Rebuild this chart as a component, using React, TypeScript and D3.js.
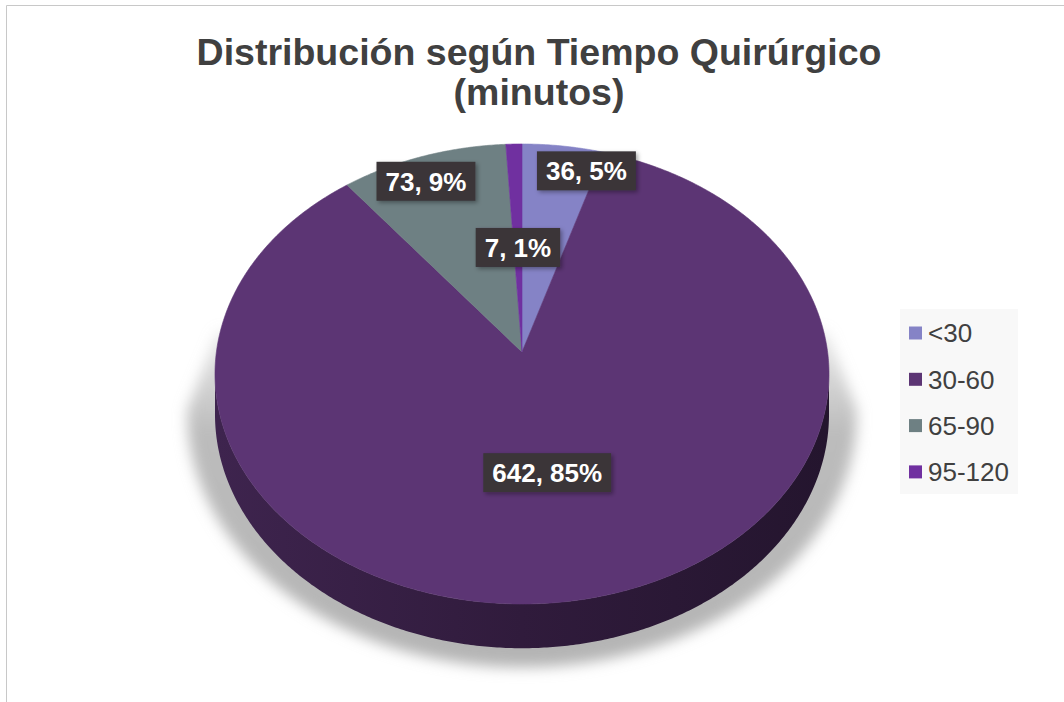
import React, { useEffect, useRef } from 'react';
import * as d3 from 'd3';

const categories = ['<30', '30-60', '65-90', '95-120'];
const counts = [36, 642, 73, 7];
const percents = [5, 85, 9, 1];
const colors = ['#8583c6', '#5c3574', '#6e8083', '#7030a0'];
const titleLines = ['Distribución según Tiempo Quirúrgico', '(minutos)'];

// where each data label sits: fraction of radius + angle nudge (degrees) from slice middle
const labelPlacement = [
  { r: 0.89, shift: 6.3 },
  { r: 0.51, shift: 1.6 },
  { r: 0.875, shift: -2.1 },
  { r: 0.48, shift: 0 },
];

const W = 1064;
const H = 702;
const CX = 522;
const CY = 352;
const RX = 305.6;
const RY = 227.9;
const PERSP = 0.0956;
const DEPTH = 40;
const FONT = "'Liberation Sans', Arial, sans-serif";

// perspective projection of a point on the pie disc (theta clockwise from 12 o'clock)
function project(theta: number, r: number, z = 0): [number, number] {
  const X = r * Math.sin(theta);
  const Y = -r * Math.cos(theta);
  const w = 1 - PERSP * Y;
  return [CX + (RX * X) / w, CY + (RY * Y + z * DEPTH) / w];
}

function arcPoints(a0: number, a1: number, r: number, z = 0): [number, number][] {
  const n = Math.max(2, Math.ceil(Math.abs(a1 - a0) / (Math.PI / 360)));
  return d3.range(n + 1).map((i) => project(a0 + ((a1 - a0) * i) / n, r, z));
}

export default function App() {
  const svgRef = useRef<SVGSVGElement>(null);

  useEffect(() => {
    const svg = d3.select(svgRef.current);
    svg.selectAll('*').remove();

    const defs = svg.append('defs');
    defs.append('filter').attr('id', 'pieShadow')
      .attr('x', '-20%').attr('y', '-20%').attr('width', '140%').attr('height', '140%')
      .append('feGaussianBlur').attr('stdDeviation', 7);
    const lbl = defs.append('filter').attr('id', 'lblShadow')
      .attr('x', '-20%').attr('y', '-20%').attr('width', '140%').attr('height', '160%');
    lbl.append('feDropShadow').attr('dx', 2).attr('dy', 2).attr('stdDeviation', 2)
      .attr('flood-color', '#000').attr('flood-opacity', 0.35);
    const shGrad = defs.append('linearGradient').attr('id', 'shadowFade')
      .attr('x1', 0).attr('y1', 0).attr('x2', 0).attr('y2', 1);
    shGrad.append('stop').attr('offset', 0).attr('stop-color', '#bcbcbc').attr('stop-opacity', 0.3);
    shGrad.append('stop').attr('offset', 0.3).attr('stop-color', '#bcbcbc').attr('stop-opacity', 1);
    shGrad.append('stop').attr('offset', 1).attr('stop-color', '#b4b4b4').attr('stop-opacity', 1);

    const line = d3.line();
    const pie = d3.pie<number>().sort(null).value((d) => d);
    const arcs = pie(counts);

    const thetaR = Math.acos(-PERSP);
    const thetaL = 2 * Math.PI - thetaR;

    // soft floor shadow
    const shadowPts: [number, number][] = [
      [CX - RX + 1, CY - 20],
      ...arcPoints(thetaL, thetaR, 1.09, 0.85),
      [CX + RX - 1, CY - 20],
    ];
    svg.append('path')
      .attr('d', line(shadowPts) + 'Z')
      .attr('fill', 'url(#shadowFade)')
      .attr('filter', 'url(#pieShadow)');

    // side walls (front half only)
    arcs.forEach((a, i) => {
      const a0 = Math.max(a.startAngle, thetaR);
      const a1 = Math.min(a.endAngle, thetaL);
      if (a0 >= a1) return;
      const base = d3.color(colors[i])!;
      const g = defs.append('linearGradient').attr('id', `side${i}`)
        .attr('gradientUnits', 'userSpaceOnUse')
        .attr('x1', CX - RX).attr('x2', CX + RX).attr('y1', 0).attr('y2', 0);
      g.append('stop').attr('offset', 0).attr('stop-color', base.darker(1.1).formatHex());
      g.append('stop').attr('offset', 0.5).attr('stop-color', base.darker(1.85).formatHex());
      g.append('stop').attr('offset', 1).attr('stop-color', base.darker(2.6).formatHex());
      const pts = [...arcPoints(a0, a1, 1, 0), ...arcPoints(a1, a0, 1, 1)];
      svg.append('path')
        .attr('d', line(pts) + 'Z')
        .attr('fill', `url(#side${i})`);
    });

    // top face
    arcs.forEach((a, i) => {
      const pts = [project(0, 0), ...arcPoints(a.startAngle, a.endAngle, 1, 0)];
      svg.append('path')
        .attr('d', line(pts) + 'Z')
        .attr('fill', colors[i])
        .attr('stroke', colors[i])
        .attr('stroke-width', 0.6)
        .attr('stroke-linejoin', 'round');
    });

    // data labels
    arcs.forEach((a, i) => {
      const mid = (a.startAngle + a.endAngle) / 2 + (labelPlacement[i].shift * Math.PI) / 180;
      const [x, y] = project(mid, labelPlacement[i].r);
      const g = svg.append('g');
      const rect = g.append('rect').attr('fill', '#3a3539').attr('filter', 'url(#lblShadow)');
      const t = g.append('text')
        .attr('x', x).attr('y', y).attr('dy', '0.36em')
        .attr('text-anchor', 'middle')
        .attr('fill', '#ffffff')
        .attr('font-family', FONT)
        .attr('font-weight', 'bold')
        .attr('font-size', 26)
        .text(`${counts[i]}, ${percents[i]}%`);
      const tw = (t.node() as SVGTextElement).getComputedTextLength();
      const bw = tw + 18;
      const bh = 39;
      rect.attr('x', x - bw / 2).attr('y', y - bh / 2).attr('width', bw).attr('height', bh);
    });

    // legend
    const leg = svg.append('g');
    leg.append('rect').attr('x', 900).attr('y', 309).attr('width', 118).attr('height', 185)
      .attr('fill', '#f8f8f8');
    categories.forEach((c, i) => {
      const cy = 333 + i * 46.3;
      leg.append('rect').attr('x', 909).attr('y', cy - 6.5).attr('width', 13).attr('height', 13)
        .attr('fill', colors[i]);
      leg.append('text').attr('x', 928).attr('y', cy).attr('dy', '0.36em')
        .attr('font-family', FONT).attr('font-size', 26).attr('fill', '#404040')
        .text(c);
    });

    // title
    svg.append('text')
      .attr('x', 539).attr('text-anchor', 'middle')
      .attr('font-family', FONT).attr('font-weight', 'bold').attr('font-size', 37.5)
      .attr('fill', '#404040')
      .selectAll('tspan')
      .data(titleLines)
      .enter()
      .append('tspan')
      .attr('x', 539)
      .attr('y', (d, i) => 65 + i * 40)
      .text((d) => d);

    // chart area frame
    svg.append('path')
      .attr('d', `M6.5,${H} V5.5 H${W}`)
      .attr('fill', 'none')
      .attr('stroke', '#c8c8c8')
      .attr('stroke-width', 1);
  }, []);

  return (
    <svg
      ref={svgRef}
      width={W}
      height={H}
      style={{ position: 'absolute', left: 0, top: 0, background: '#ffffff' }}
    ></svg>
  );
}
